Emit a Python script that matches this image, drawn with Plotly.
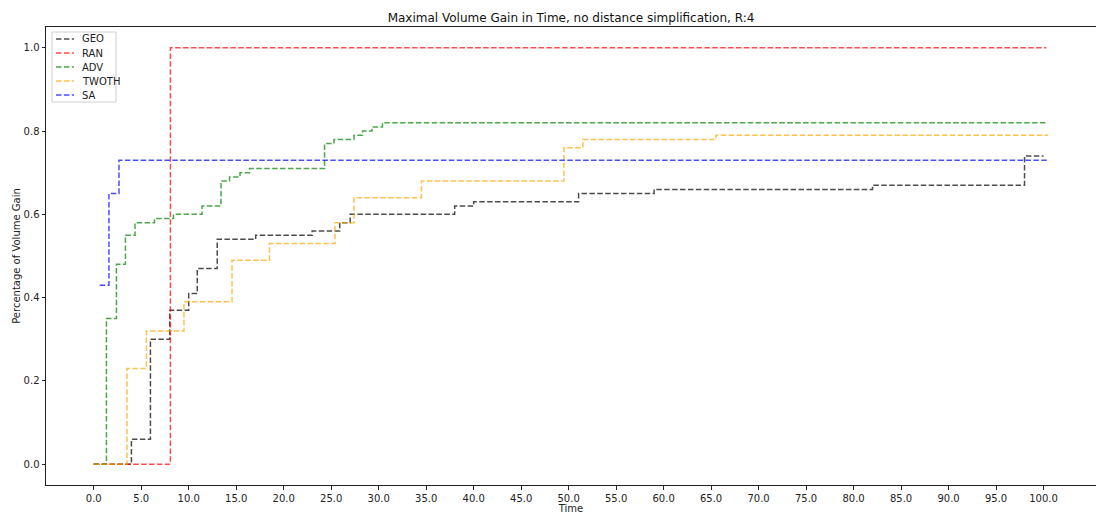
import plotly.graph_objects as go

# Step-series: time of each improvement and the gain reached from that time on
geo_t = [0.0, 3.97, 5.97, 8.0, 10.0, 10.9, 13.0, 17.05, 23.0, 25.9, 27.0, 38.0, 40.0, 51.05, 59.0, 82.0, 98.0, 100.0]
geo_v = [0.0, 0.06, 0.30, 0.37, 0.41, 0.47, 0.54, 0.55, 0.56, 0.58, 0.60, 0.62, 0.63, 0.65, 0.66, 0.67, 0.74, 0.74]

ran_t = [0.0, 8.07, 100.3]
ran_v = [0.0, 1.0, 1.0]

adv_t = [0.0, 1.34, 2.39, 3.34, 4.35, 6.4, 8.4, 11.4, 13.4, 14.3, 15.4, 16.4, 24.3, 25.3, 27.4, 28.3, 29.3, 30.4, 100.3]
adv_v = [0.0, 0.35, 0.48, 0.55, 0.58, 0.59, 0.60, 0.62, 0.68, 0.69, 0.70, 0.71, 0.77, 0.78, 0.79, 0.80, 0.81, 0.82, 0.82]

twoth_t = [0.0, 3.5, 5.55, 9.5, 14.56, 18.5, 25.4, 27.4, 34.5, 49.5, 51.5, 65.5, 100.5]
twoth_v = [0.0, 0.23, 0.32, 0.39, 0.49, 0.53, 0.58, 0.64, 0.68, 0.76, 0.78, 0.79, 0.79]

sa_t = [0.63, 1.6, 2.66, 100.5]
sa_v = [0.43, 0.65, 0.73, 0.73]

series = [
    ("GEO", geo_t, geo_v, "rgba(0,0,0,0.7)"),
    ("RAN", ran_t, ran_v, "rgba(255,0,0,0.7)"),
    ("ADV", adv_t, adv_v, "rgba(0,128,0,0.7)"),
    ("TWOTH", twoth_t, twoth_v, "rgba(255,165,0,0.7)"),
    ("SA", sa_t, sa_v, "rgba(0,0,255,0.7)"),
]

x_ticks = [i * 5.0 for i in range(21)]
y_ticks = [0.0, 0.2, 0.4, 0.6, 0.8, 1.0]

FONT = "DejaVu Sans"
DASH = "5.5px,2.4px"

W, H = 1096, 514
M_L, M_R, M_T, M_B = 46, 0, 27, 29
PW, PH = W - M_L - M_R, H - M_T - M_B


def px_x(px):
    """Pixel column -> paper x coordinate."""
    return (px - M_L) / PW


def px_y(py):
    """Pixel row -> paper y coordinate."""
    return (H - M_B - py) / PH


fig = go.Figure()
for name, t, v, color in series:
    fig.add_trace(go.Scatter(
        x=t, y=v, name=name, mode="lines", showlegend=False,
        line=dict(shape="hv", color=color, width=1.5, dash=DASH),
    ))

# Compact legend box in the upper-left corner of the axes
shapes = [dict(
    type="rect", xref="paper", yref="paper",
    x0=px_x(52), x1=px_x(116), y0=px_y(102), y1=px_y(32),
    line=dict(color="#d0d0d0", width=1), fillcolor="rgba(255,255,255,0.8)",
    layer="above",
)]
annotations = []
for i, (name, _, _, color) in enumerate(series):
    row_y = 39 + 14 * i
    shapes.append(dict(
        type="line", xref="paper", yref="paper",
        x0=px_x(56), x1=px_x(74), y0=px_y(row_y), y1=px_y(row_y),
        line=dict(color=color, width=1.5, dash=DASH), layer="above",
    ))
    annotations.append(dict(
        text=name, xref="paper", yref="paper",
        x=px_x(80), y=px_y(row_y), xanchor="left", yanchor="middle",
        showarrow=False, font=dict(family=FONT, size=10, color="#222"),
    ))

axis_common = dict(
    showgrid=False, zeroline=False,
    showline=True, linecolor="#222", linewidth=1, mirror=True,
    ticks="outside", ticklen=3.5, tickwidth=0.8, tickcolor="#222",
    tickfont=dict(family=FONT, size=10, color="#222"),
)

fig.update_layout(
    width=W, height=H,
    margin=dict(l=M_L, r=M_R, t=M_T, b=M_B),
    paper_bgcolor="white", plot_bgcolor="white",
    font=dict(family=FONT, size=10, color="#222"),
    title=dict(
        text="Maximal Volume Gain in Time, no distance simplification, R:4",
        font=dict(family=FONT, size=12, color="#111"),
        x=0.5, xref="paper", xanchor="center",
        y=1, yref="paper", yanchor="bottom", pad=dict(b=5),
    ),
    xaxis=dict(
        range=[-5.025, 105.525], tickvals=x_ticks, tickformat=".1f",
        title=dict(text="Time", font=dict(family=FONT, size=10, color="#222"), standoff=3),
        **axis_common,
    ),
    yaxis=dict(
        range=[-0.05, 1.05], tickvals=y_ticks, tickformat=".1f",
        title=dict(text="Percentage of Volume Gain", font=dict(family=FONT, size=10, color="#222"), standoff=1),
        **axis_common,
    ),
    shapes=shapes,
    annotations=annotations,
    showlegend=False,
)

fig.write_html("out.html")
